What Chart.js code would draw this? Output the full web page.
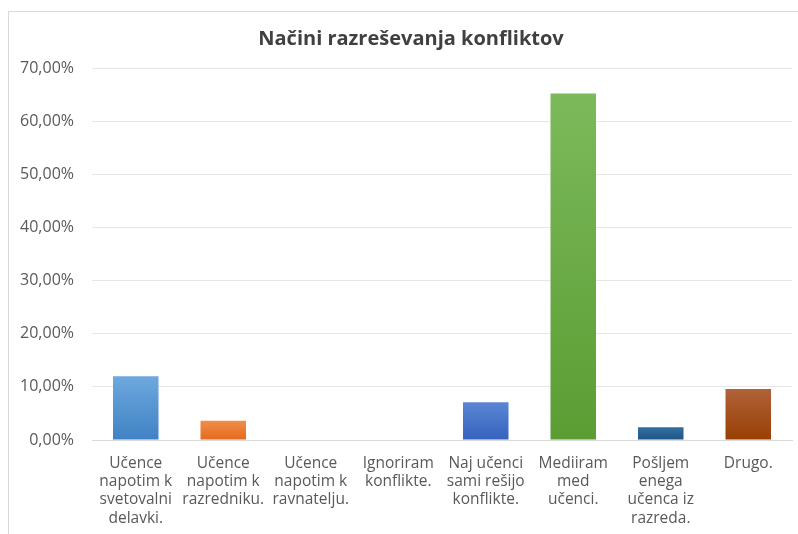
<!DOCTYPE html>
<html>
<head>
<meta charset="utf-8">
<script src="https://cdn.jsdelivr.net/npm/chart.js@4.4.1/dist/chart.umd.min.js"></script>
<style>
  html, body { margin: 0; padding: 0; background: #fff; overflow: hidden; }
  #frame { position: absolute; left: 8px; top: 11px; width: 820px; height: 560px; border: 1px solid #d9d9d9; }
  #wrap { position: absolute; left: 0; top: 0; width: 798px; height: 534px; }
</style>
</head>
<body>
<div id="frame"></div>
<div id="wrap"><canvas id="chart" width="798" height="534"></canvas></div>
<script>
    // Categories (answer options)
    const categories = [
        ['Učence', 'napotim k', 'svetovalni', 'delavki.'],
        ['Učence', 'napotim k', 'razredniku.'],
        ['Učence', 'napotim k', 'ravnatelju.'],
        ['Ignoriram', 'konflikte.'],
        ['Naj učenci', 'sami rešijo', 'konflikte.'],
        ['Mediiram', 'med', 'učenci.'],
        ['Pošljem', 'enega', 'učenca iz', 'razreda.'],
        ['Drugo.']
    ];

    // Share of answers in %
    const shares = [12.0, 3.6, 0, 0, 7.1, 65.2, 2.4, 9.6];

    // Bar colours, top and bottom of the gradient
    const topColors = ['#6ea8de', '#f28d4b', '#b5b5b5', '#ffc933', '#5a86d4', '#7cb95b', '#31709f', '#b0623a'];
    const bottomColors = ['#3f82c4', '#e36a1c', '#949494', '#e6ac00', '#3563bd', '#5b9d33', '#1f5488', '#993f03'];

    const chartTitle = 'Načini razreševanja konfliktov';
    const yMax = 70;
    const yStep = 10;

    function barGradient(ctx) {
        const chart = ctx.chart;
        const i = ctx.dataIndex;
        const y = chart.scales.y;
        if (!chart.chartArea || !y) return bottomColors[i];
        const top = y.getPixelForValue(ctx.raw);
        const base = y.getPixelForValue(0);
        if (!isFinite(top) || base - top < 1) return bottomColors[i];
        const g = chart.ctx.createLinearGradient(0, top, 0, base);
        g.addColorStop(0, topColors[i]);
        g.addColorStop(1, bottomColors[i]);
        return g;
    }

    // title centred on the frame, not the canvas
    const frameTitle = {
        id: 'frameTitle',
        afterDraw(chart) {
            const c = chart.ctx;
            c.save();
            c.font = 'bold 20px "Open Sans"';
            c.fillStyle = '#404040';
            c.textAlign = 'center';
            c.textBaseline = 'middle';
            c.fillText(chartTitle, 411, 39);
            c.restore();
        }
    };

    const ctx = document.getElementById('chart').getContext('2d');
    new Chart(ctx, {
        type: 'bar',
        data: {
            labels: categories,
            datasets: [{
                label: 'Delež',
                data: shares,
                backgroundColor: barGradient,
                borderWidth: 0,
                barPercentage: 0.52,
                categoryPercentage: 1
            }]
        },
        plugins: [frameTitle],
        options: {
            responsive: false,
            animation: false,
            layout: { padding: { left: 0, right: 6, top: 68, bottom: 0 } },
            scales: {
                x: {
                    grid: { display: false, drawTicks: false },
                    border: { display: true, color: '#d9d9d9', width: 1 },
                    ticks: {
                        color: '#595959',
                        font: { family: 'Open Sans', size: 15.5, lineHeight: '18.4px' },
                        maxRotation: 0,
                        autoSkip: false,
                        padding: 14
                    },
                    afterFit: function (scale) { scale.height = 94; }
                },
                y: {
                    min: 0,
                    max: yMax,
                    grid: { color: '#e6e6e6', drawTicks: false },
                    border: { display: false },
                    ticks: {
                        stepSize: yStep,
                        color: '#595959',
                        font: { family: 'Open Sans', size: 16 },
                        padding: 18,
                        callback: function (v) { return v.toFixed(2).replace('.', ',') + '%'; }
                    },
                    afterFit: function (scale) { scale.width = 92; }
                }
            },
            plugins: {
                legend: { display: false },
                tooltip: { enabled: false },
                title: { display: false }
            }
        }
    });
</script>
</body>
</html>
